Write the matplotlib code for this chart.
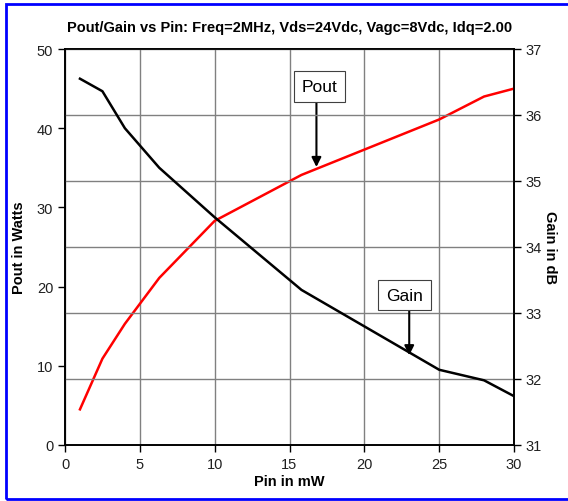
import matplotlib.pyplot as plt
from matplotlib.patches import Rectangle

plt.rcParams['font.family'] = ['Liberation Sans', 'DejaVu Sans']

# data
pin_mw = [1, 2.5, 4, 6.3, 10, 15.8, 25, 28, 30]
pout_w = [4.5, 10.9, 15.3, 21.1, 28.3, 34.1, 41.1, 44.0, 45.0]
gain_db = [36.55, 36.36, 35.8, 35.2, 34.45, 33.35, 32.14, 31.98, 31.74]

x_ticks = [0, 5, 10, 15, 20, 25, 30]
pout_ticks = [0, 10, 20, 30, 40, 50]
gain_ticks = [31, 32, 33, 34, 35, 36, 37]

fig = plt.figure(figsize=(5.68, 5.02), dpi=100)
ax = fig.add_axes([65/568, 1 - 446/502, 449/568, 396/502])
ax2 = ax.twinx()

# gridlines: vertical from x axis, horizontal from gain axis
ax.set_xlim(0, 30)
ax.set_ylim(0, 50)
ax.set_xticks(x_ticks)
ax.set_yticks(pout_ticks)
ax.xaxis.grid(True, color='#808080', lw=1)
ax2.set_ylim(31, 37)
ax2.set_yticks(gain_ticks)
ax2.yaxis.grid(True, color='#808080', lw=1)

ax.plot(pin_mw, pout_w, color='red', lw=1.8, zorder=3)
ax2.plot(pin_mw, gain_db, color='black', lw=1.8, zorder=3)

for a in (ax, ax2):
    for s in a.spines.values():
        s.set_color('black')
        s.set_linewidth(1.2)
    a.tick_params(labelsize=10.5, length=5, width=1, color='black', labelcolor='#202020')

ax.set_xlabel('Pin in mW', fontsize=10.5, fontweight='bold', labelpad=2)
ax.set_ylabel('Pout in Watts', fontsize=10.5, fontweight='bold', labelpad=8)
ax2.set_ylabel('Gain in dB', fontsize=10.5, fontweight='bold', rotation=270, labelpad=11)
ax.set_title('Pout/Gain vs Pin: Freq=2MHz, Vds=24Vdc, Vagc=8Vdc, Idq=2.00',
             fontsize=10.5, fontweight='bold', pad=13)

# callout boxes, with vertical arrows leaving the box bottom
box = dict(boxstyle='square,pad=0.45', fc='white', ec='#404040', lw=0.8)
arrow = dict(arrowstyle='-|>', color='black', lw=1.5, mutation_scale=14, shrinkA=0, shrinkB=0)
ax.text(17.0, 45.3, 'Pout', ha='center', va='center', fontsize=12.5, bbox=box, zorder=6)
ax.annotate('', xy=(16.8, 35.1), xytext=(16.8, 43.5), arrowprops=arrow, zorder=5)
ax2.text(22.7, 33.27, 'Gain', ha='center', va='center', fontsize=12.5, bbox=box, zorder=6)
ax2.annotate('', xy=(23.0, 32.36), xytext=(23.0, 33.1), arrowprops=arrow, zorder=5)

# blue frame round the chart, open on the right
fig.patches.append(Rectangle((6/568, 2/502), 1.1, 495/502, transform=fig.transFigure,
                             fill=False, ec='blue', lw=2))

fig.savefig('out.png', dpi=100)
